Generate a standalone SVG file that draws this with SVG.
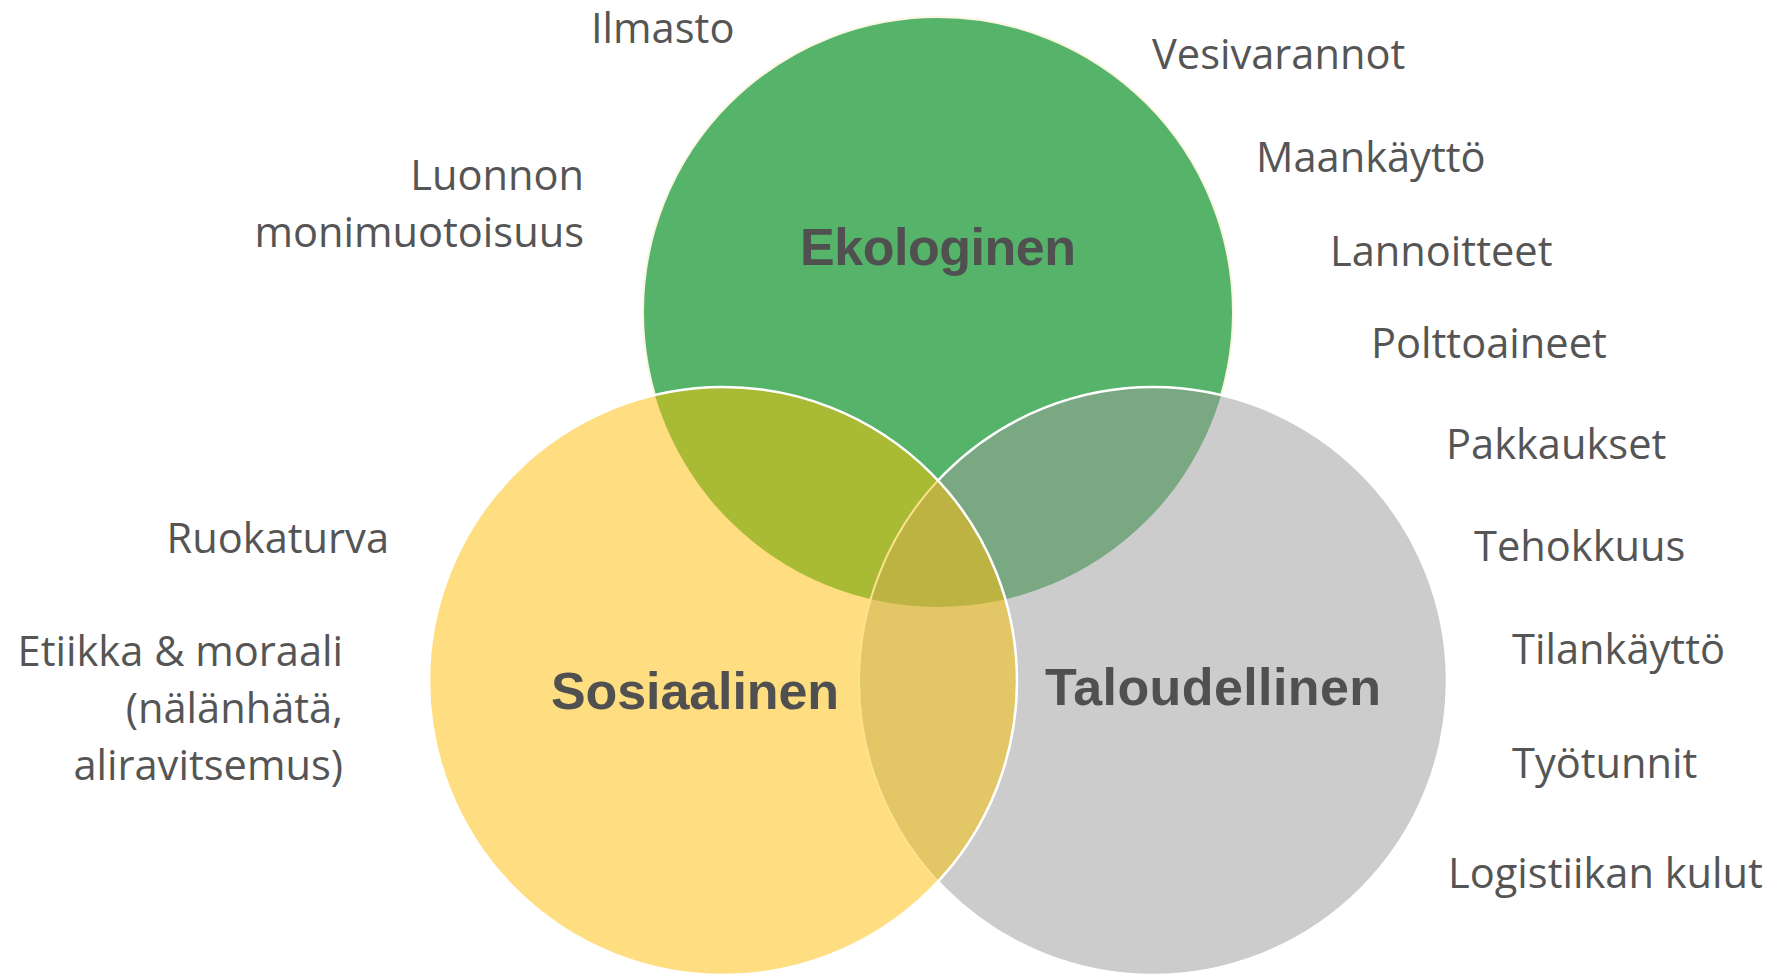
<svg xmlns="http://www.w3.org/2000/svg" width="1770" height="975" viewBox="0 0 1770 975">
  <style>
    .item { font-family: "Open Sans", "Noto Sans", sans-serif; font-size: 41.6px; fill: #555555; }
    .end { text-anchor: end; }
    .head { font-family: "Liberation Sans", Arial, sans-serif; font-weight: bold; font-size: 52px; fill: #505050; text-anchor: middle; }
    .edge { fill: none; }
  </style>
  <defs>
    <clipPath id="clipEco"><circle cx="938" cy="312" r="295"/></clipPath>
    <clipPath id="clipSoc"><circle cx="723" cy="681" r="294"/></clipPath>
    <clipPath id="clipEcon"><circle cx="1153" cy="681" r="294"/></clipPath>
    <!-- areas outside the lower circles -->
    <mask id="outsideLower" maskUnits="userSpaceOnUse" x="0" y="0" width="1770" height="975">
      <rect width="1770" height="975" fill="#fff"/>
      <circle cx="723" cy="681" r="293" fill="#000"/>
      <circle cx="1153" cy="681" r="293" fill="#000"/>
    </mask>
    <mask id="outsideSoc" maskUnits="userSpaceOnUse" x="0" y="0" width="1770" height="975">
      <rect width="1770" height="975" fill="#fff"/>
      <circle cx="723" cy="681" r="293" fill="#000"/>
    </mask>
  </defs>

  <rect width="1770" height="975" fill="#ffffff"/>

  <!-- three sustainability dimensions -->
  <g id="node-ekologinen">
    <circle cx="938" cy="312" r="295" fill="#55B36A"/>
    <text class="head" x="938" y="265" textLength="276">Ekologinen</text>
  </g>
  <g id="node-taloudellinen">
    <circle cx="1153" cy="681" r="294" fill="#CCCCCC"/>
    <text class="head" x="1213" y="705" textLength="336">Taloudellinen</text>
  </g>
  <g id="node-sosiaalinen">
    <circle cx="723" cy="681" r="294" fill="#FFDE81"/>
    <text class="head" x="695" y="709" textLength="288">Sosiaalinen</text>
  </g>

  <!-- overlap areas -->
  <g id="overlaps">
    <circle cx="723" cy="681" r="294" fill="#A9BA35" clip-path="url(#clipEco)"/>
    <circle cx="1153" cy="681" r="294" fill="#79A883" clip-path="url(#clipEco)"/>
    <circle cx="723" cy="681" r="294" fill="#E3C767" clip-path="url(#clipEcon)"/>
    <g clip-path="url(#clipEco)">
      <circle cx="723" cy="681" r="294" fill="#BDB343" clip-path="url(#clipEcon)"/>
    </g>
  </g>

  <!-- circle outlines -->
  <g id="outlines">
    <circle class="edge" cx="938" cy="312" r="295" stroke="#FBF5E2" stroke-width="2" mask="url(#outsideLower)"/>
    <circle class="edge" cx="1153" cy="681" r="294" stroke="#FFFFFF" stroke-width="2.5" mask="url(#outsideSoc)"/>
    <circle class="edge" cx="1153" cy="681" r="294" stroke="#FFE28C" stroke-width="2" clip-path="url(#clipSoc)"/>
    <circle class="edge" cx="723" cy="681" r="294" stroke="#FFFFFF" stroke-width="2.5"/>
  </g>

  <!-- ecological factors -->
  <g id="labels-ecological">
    <text class="item" x="591" y="43">Ilmasto</text>
    <text class="item end" x="584" y="190">Luonnon</text>
    <text class="item end" x="584" y="247">monimuotoisuus</text>
    <text class="item" x="1152" y="69">Vesivarannot</text>
    <text class="item" x="1256" y="172">Maankäyttö</text>
    <text class="item" x="1330" y="266">Lannoitteet</text>
    <text class="item" x="1371" y="358">Polttoaineet</text>
    <text class="item" x="1446" y="459">Pakkaukset</text>
  </g>

  <!-- economic factors -->
  <g id="labels-economic">
    <text class="item" x="1474" y="561">Tehokkuus</text>
    <text class="item" x="1512" y="664">Tilankäyttö</text>
    <text class="item" x="1512" y="778">Työtunnit</text>
    <text class="item" x="1448" y="888">Logistiikan kulut</text>
  </g>

  <!-- social factors -->
  <g id="labels-social">
    <text class="item end" x="389" y="553">Ruokaturva</text>
    <text class="item end" x="343" y="666">Etiikka &amp; moraali</text>
    <text class="item end" x="343" y="723">(nälänhätä,</text>
    <text class="item end" x="343" y="780">aliravitsemus)</text>
  </g>
</svg>
